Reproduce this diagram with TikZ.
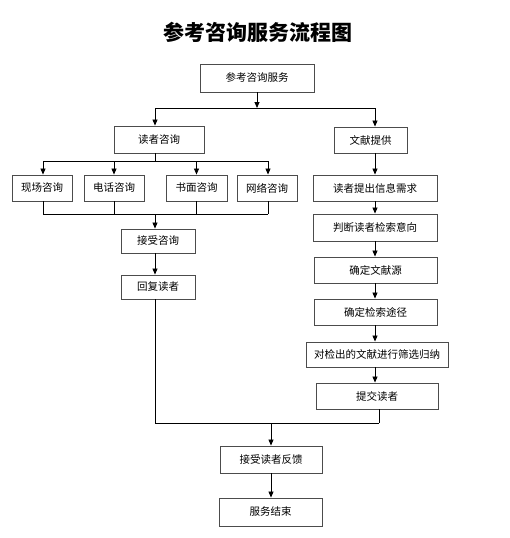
\documentclass[tikz,border=0pt]{standalone}
\usepackage{fontspec}
\newfontfamily\cjk{Noto Sans CJK SC}
\usetikzlibrary{arrows.meta}
\begin{document}
\begin{tikzpicture}[x=1pt,y=-1pt,
  box/.style={draw=black!70, line width=0.9pt, inner sep=0pt, fill=white,
    font=\cjk\fontsize{10.5}{12}\selectfont},
  ln/.style={draw=black, line width=0.8pt},
  arr/.style={ln, -{Triangle[width=5pt,length=6pt]}}]
\useasboundingbox (0,0) rectangle (510,538);
\node[font=\cjk\bfseries\fontsize{21}{24}\selectfont] (title) at (258,32) {参考咨询服务流程图};
% nodes
\node[box, minimum width=114pt, minimum height=28pt] (root) at (257,78) {参考咨询服务};
\node[box, minimum width=90pt, minimum height=27pt] (dz) at (159,139.5) {读者咨询};
\node[box, minimum width=73pt, minimum height=26pt] (wx) at (370.5,140) {文献提供};
\node[box, minimum width=60pt, minimum height=26pt] (c1) at (42,188) {现场咨询};
\node[box, minimum width=60pt, minimum height=26pt] (c2) at (114,188) {电话咨询};
\node[box, minimum width=61pt, minimum height=26pt] (c3) at (196.5,188) {书面咨询};
\node[box, minimum width=60pt, minimum height=26pt] (c4) at (267,188) {网络咨询};
\node[box, minimum width=74pt, minimum height=24pt] (js) at (158,241) {接受咨询};
\node[box, minimum width=74pt, minimum height=24pt] (hf) at (158,287) {回复读者};
\node[box, minimum width=124pt, minimum height=26pt] (r1) at (375,188) {读者提出信息需求};
\node[box, minimum width=124pt, minimum height=27pt] (r2) at (375,227.5) {判断读者检索意向};
\node[box, minimum width=123pt, minimum height=26pt] (r3) at (375.5,270) {确定文献源};
\node[box, minimum width=123pt, minimum height=26pt] (r4) at (375.5,312) {确定检索途径};
\node[box, minimum width=142pt, minimum height=25pt] (r5) at (377,354.5) {对检出的文献进行筛选归纳};
\node[box, minimum width=122pt, minimum height=26pt] (r6) at (377,396) {提交读者};
\node[box, minimum width=102pt, minimum height=27pt] (fk) at (271,459.5) {接受读者反馈};
\node[box, minimum width=103pt, minimum height=28pt] (end) at (270.5,512) {服务结束};
% junction coordinates
\coordinate (j0) at (257,108);
\coordinate (jl) at (155,108);
\coordinate (jr) at (375,108);
\coordinate (k0) at (155,161);
\coordinate (k1) at (43,161);
\coordinate (k4) at (268,161);
\coordinate (m0) at (155,214);
\coordinate (m1) at (43,214);
\coordinate (m4) at (268,214);
\coordinate (n0) at (271,423);
\coordinate (nl) at (155,423);
\coordinate (nr) at (379,423);
% top split
\draw[arr] (root.south) -- (j0);
\draw[ln] (jl) -- (jr);
\draw[arr] (jl) -- (jl |- dz.north);
\draw[arr] (jr) -- (jr |- wx.north);
% left branch
\draw[ln] (dz.south -| k0) -- (k0);
\draw[ln] (k1) -- (k4);
\draw[arr] (k1) -- (k1 |- c1.north);
\draw[arr] (k0 -| c2) -- (c2.north);
\draw[arr] (k0 -| c3) -- (c3.north);
\draw[arr] (k4) -- (k4 |- c4.north);
\draw[ln] (c1.south -| m1) -- (m1);
\draw[ln] (c2.south) -- (m0 -| c2);
\draw[ln] (c3.south) -- (m0 -| c3);
\draw[ln] (c4.south -| m4) -- (m4);
\draw[ln] (m1) -- (m4);
\draw[arr] (m0) -- (m0 |- js.north);
\draw[arr] (js.south -| m0) -- (hf.north -| m0);
\draw[ln] (hf.south -| nl) -- (nl);
% right branch
\draw[arr] (wx.south -| r1) -- (r1.north);
\draw[arr] (r1.south) -- (r2.north -| r1);
\draw[arr] (r2.south -| r1) -- (r3.north -| r1);
\draw[arr] (r3.south -| r1) -- (r4.north -| r1);
\draw[arr] (r4.south -| r1) -- (r5.north -| r1);
\draw[arr] (r5.south -| r1) -- (r6.north -| r1);
\draw[ln] (r6.south -| nr) -- (nr);
% merge
\draw[ln] (nl) -- (nr);
\draw[arr] (n0) -- (n0 |- fk.north);
\draw[arr] (fk.south) -- (end.north -| fk);
\end{tikzpicture}
\end{document}
